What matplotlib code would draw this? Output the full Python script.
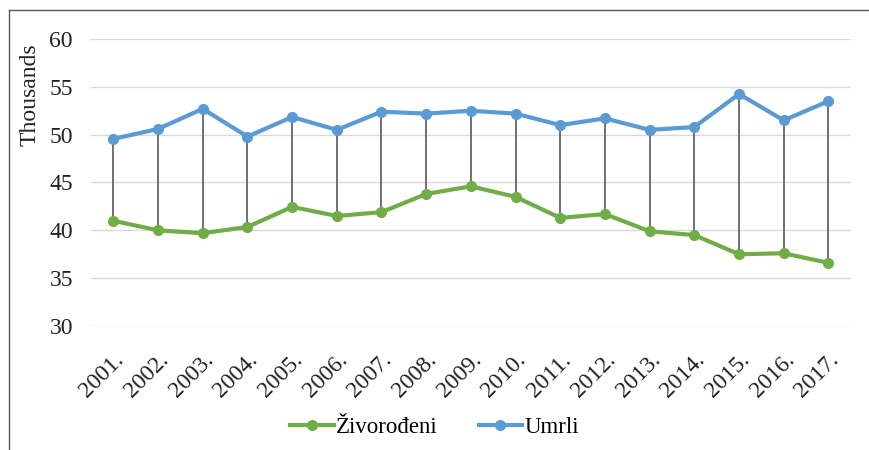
import numpy as np
import matplotlib.pyplot as plt
from matplotlib.lines import Line2D

years = ['2001.', '2002.', '2003.', '2004.', '2005.', '2006.', '2007.', '2008.', '2009.',
         '2010.', '2011.', '2012.', '2013.', '2014.', '2015.', '2016.', '2017.']
zivorodjeni = [41.0, 40.0, 39.7, 40.35, 42.45, 41.5, 41.9, 43.8, 44.6,
               43.5, 41.3, 41.7, 39.9, 39.5, 37.5, 37.6, 36.6]
umrli = [49.55, 50.6, 52.7, 49.8, 51.85, 50.5, 52.4, 52.2, 52.5,
         52.2, 51.0, 51.7, 50.5, 50.8, 54.25, 51.5, 53.5]

plt.rcParams['font.family'] = ['Liberation Serif', 'DejaVu Serif']

fig = plt.figure(figsize=(8.69, 4.5), dpi=100)
ax = fig.add_axes([0.1047, 0.2756, 0.8743, 0.6377])

x = np.arange(len(years))
ax.vlines(x, zivorodjeni, umrli, color='#595959', linewidth=1.2, zorder=2)
ax.plot(x, zivorodjeni, color='#70AD47', linewidth=3, marker='o', markersize=7,
        label='Živorođeni', zorder=3)
ax.plot(x, umrli, color='#5B9BD5', linewidth=3, marker='o', markersize=7,
        label='Umrli', zorder=3)

ax.set_xlim(-0.5, len(years) - 0.5)
ax.set_ylim(30, 60)
ax.set_yticks(np.arange(30, 61, 5))
ax.set_xticks(x)
ax.set_xticklabels(years, rotation=45, ha='right', va='top', rotation_mode='anchor')
ax.tick_params(axis='both', length=0, labelsize=17, colors='#222222')
ax.tick_params(axis='y', pad=13)
ax.tick_params(axis='x', pad=17)
ax.grid(axis='y', color='#d9d9d9', linewidth=1)
ax.set_axisbelow(True)
for s in ax.spines.values():
    s.set_visible(False)
ax.set_ylabel('Thousands', fontsize=17, color='#222222')
ax.yaxis.set_label_coords(-0.066, 0.805)

ax.legend(loc='center', bbox_to_anchor=(0.5, 0.05), bbox_transform=fig.transFigure,
          ncol=2, frameon=False, fontsize=16.5, handlelength=1.9, columnspacing=1.8,
          handletextpad=0.1)

# outer frame (top and left edges only)
fig.add_artist(Line2D([9 / 869, 1], [1 - 10 / 450, 1 - 10 / 450], color='#595959', linewidth=1))
fig.add_artist(Line2D([9 / 869, 9 / 869], [0, 1 - 10 / 450], color='#595959', linewidth=1))

fig.savefig('out.png', dpi=100)
